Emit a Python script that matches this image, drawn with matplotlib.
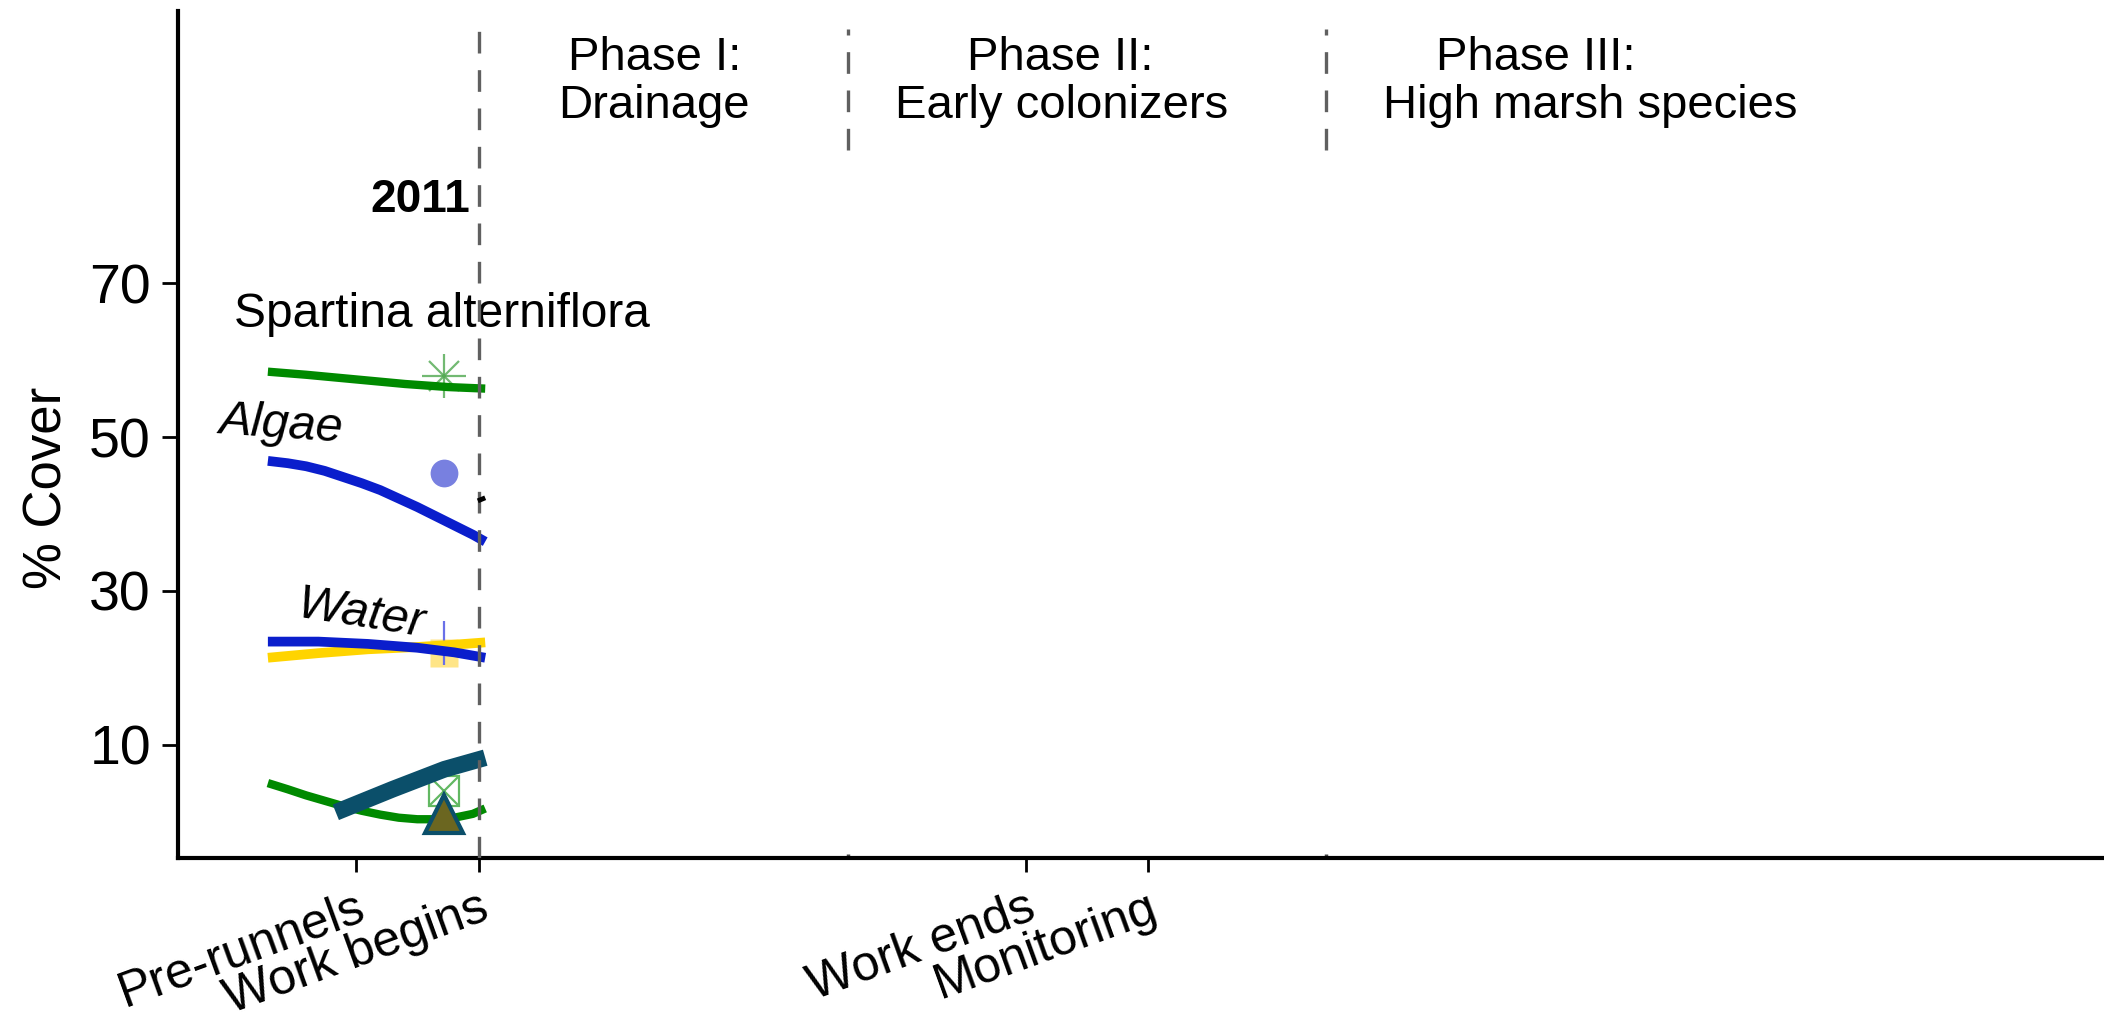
import matplotlib
matplotlib.use("Agg")
import matplotlib.pyplot as plt

plt.rcParams['font.family'] = ['Liberation Sans', 'DejaVu Sans']

# x positions of the timeline events
tickPos = [0.0, 1.0, 5.43, 6.42]
tickLabels = ["Pre-runnels", "Work begins", "Work ends", "Monitoring"]
phaseBreaks = [3.99, 7.86]
yTicks = [10, 30, 50, 70]

# fitted curves
spartinaX = [-0.71, -0.4, 0.0, 0.4, 0.75, 1.05]
spartinaY = [58.5, 58.1, 57.5, 56.9, 56.5, 56.3]
algaeX = [-0.71, -0.55, -0.4, -0.25, -0.1, 0.05, 0.2, 0.35, 0.5, 0.65, 0.8, 0.95, 1.05]
algaeY = [46.9, 46.6, 46.2, 45.6, 44.8, 44.0, 43.1, 42.0, 40.9, 39.7, 38.5, 37.3, 36.4]
waterX = [-0.71, -0.3, 0.1, 0.5, 0.8, 1.05]
waterY = [23.4, 23.4, 23.1, 22.6, 22.0, 21.3]
yellowX = [-0.71, -0.3, 0.1, 0.5, 0.8, 1.05]
yellowY = [21.3, 21.9, 22.4, 22.7, 23.0, 23.3]
bareX = [-0.71, -0.55, -0.4, -0.25, -0.1, 0.05, 0.2, 0.35, 0.5, 0.65, 0.8, 0.95, 1.05]
bareY = [5.0, 4.2, 3.4, 2.7, 2.0, 1.4, 0.9, 0.5, 0.3, 0.3, 0.5, 1.0, 1.7]
tealX = [-0.16, 0.3, 0.72, 1.05]
tealY = [1.2, 4.2, 6.8, 8.3]
blackX = [0.99, 1.05]
blackY = [41.7, 42.1]

# observed means at the work-begins survey
obsX = 0.72
spartinaObs = 57.9
algaeObs = 45.3
waterObs = 23.2
yellowObs = 21.9
bareObs = 4.0
tealObs = 1.0

fig = plt.figure(figsize=(21.04, 10.21), dpi=100)
ax = fig.add_axes([0.0846, 0.1592, 0.9154, 0.8300])

green = '#008a00'
blue = '#0a1ecc'
yellow = '#ffd400'
teal = '#0b4f6a'

# markers first, lines drawn over them
ax.plot(obsX, spartinaObs, marker='+', ms=31, mew=1.6, color='#4fa84f', alpha=0.8, zorder=2)
ax.plot(obsX, spartinaObs, marker='x', ms=22, mew=1.6, color='#4fa84f', alpha=0.8, zorder=2)
ax.plot(obsX, algaeObs, marker='o', ms=20, mec='none', color='#7880e0', zorder=2)
ax.plot(obsX, yellowObs, marker='s', ms=20, mec='none', color='#ffe587', zorder=2)
ax.plot(obsX, waterObs, marker='|', ms=32, mew=1.6, color='#6a70e8', zorder=2)
ax.plot(obsX, bareObs, marker='s', ms=21, mfc='none', mec='#62b862', mew=1.6, zorder=2)
ax.plot(obsX, bareObs, marker='x', ms=21, mew=1.6, color='#62b862', zorder=2)

ax.plot(spartinaX, spartinaY, color=green, lw=6, solid_capstyle='butt', zorder=3)
ax.plot(algaeX, algaeY, color=blue, lw=7, solid_capstyle='butt', zorder=3)
ax.plot(yellowX, yellowY, color=yellow, lw=7, solid_capstyle='butt', zorder=3)
ax.plot(waterX, waterY, color=blue, lw=7, solid_capstyle='butt', zorder=3)
ax.plot(bareX, bareY, color=green, lw=6, solid_capstyle='butt', zorder=3)
ax.plot(tealX, tealY, color=teal, lw=12, solid_capstyle='butt', zorder=4)
ax.plot(blackX, blackY, color='black', lw=3.5, solid_capstyle='butt', zorder=6)

ax.plot(obsX, tealObs, marker='^', ms=28, mfc='#6b6620', mec=teal, mew=3, zorder=5)

# phase separators
ax.axvline(1.0, ymin=0, ymax=(102.9 + 4.8) / 110.2, color='#606060', lw=2.4,
           ls=(0, (6.5, 5.0)), zorder=5)
for xb in phaseBreaks:
    ax.plot([xb, xb], [87.3, 103.0], color='#606060', lw=2.4, ls=(0, (6.5, 5.0)))

ax.text(0.926, 79.3, "2011", fontsize=33, fontweight='bold', ha='right', va='baseline')

ax.text(2.42, 97.7, "Phase I:", fontsize=34, ha='center', va='baseline')
ax.text(2.42, 91.5, "Drainage", fontsize=34, ha='center', va='baseline')
ax.text(5.71, 97.7, "Phase II:", fontsize=34, ha='center', va='baseline')
ax.text(5.72, 91.5, "Early colonizers", fontsize=34, ha='center', va='baseline')
ax.text(9.56, 97.7, "Phase III:", fontsize=34, ha='center', va='baseline')
ax.text(10.0, 91.5, "High marsh species", fontsize=34, ha='center', va='baseline')

ax.text(0.70, 64.3, "Spartina alterniflora", fontsize=34.5, ha='center', va='baseline')
ax.text(-0.61, 49.9, "Algae", fontsize=35, style='italic', ha='center', va='baseline',
        rotation=-4, rotation_mode='anchor')
ax.text(0.03, 25.3, "Water", fontsize=35, style='italic', ha='center', va='baseline',
        rotation=-9, rotation_mode='anchor')

ax.set_xlim(-1.438, 14.16)
ax.set_ylim(-4.8, 105.4)
ax.set_yticks(yTicks)
ax.set_xticks(tickPos)
ax.set_xticklabels(tickLabels, rotation=20, ha='right', va='top', rotation_mode='anchor')
ax.set_xticks(phaseBreaks, minor=True)
ax.tick_params(axis='x', which='minor', direction='in', length=3, width=2.5, color='#444444')
ax.tick_params(axis='both', which='major', width=2, color='black')
ax.tick_params(axis='y', which='major', length=11.5, pad=8, labelsize=40)
ax.tick_params(axis='x', which='major', length=10, pad=9, labelsize=36)

ax.set_ylabel("% Cover", fontsize=38)
ax.yaxis.set_label_coords(-0.055, 0.437)

for side in ['top', 'right']:
    ax.spines[side].set_visible(False)
for side in ['left', 'bottom']:
    ax.spines[side].set_linewidth(3)

fig.savefig("out.png", dpi=100, facecolor='white')
